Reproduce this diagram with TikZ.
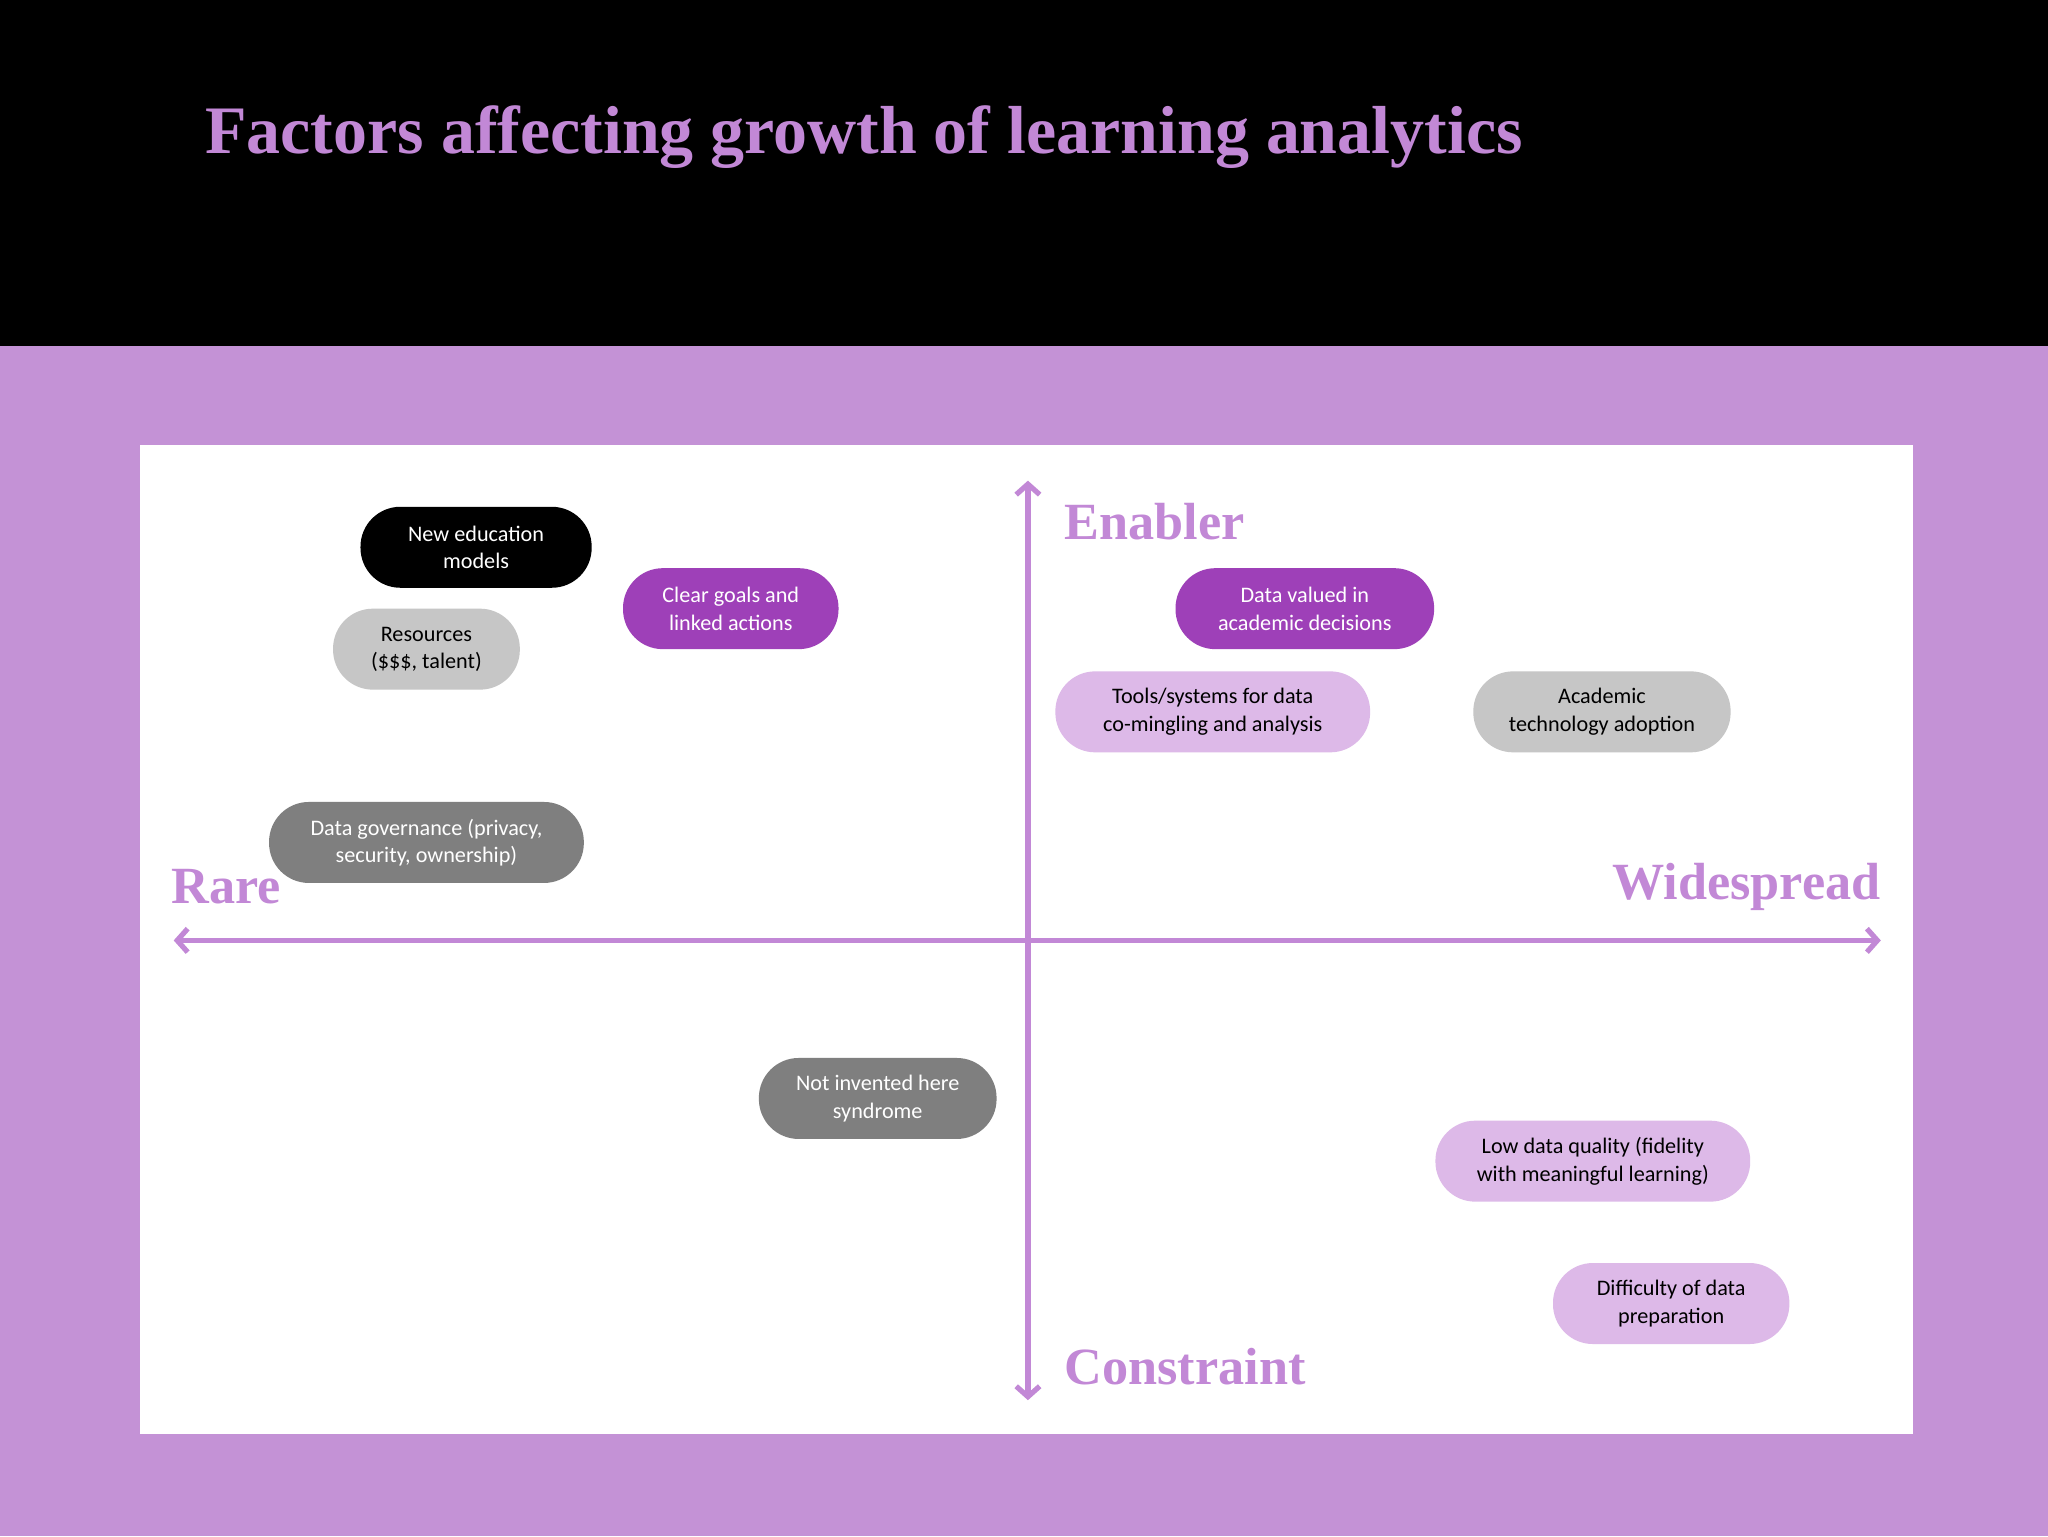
\documentclass[tikz,border=0pt]{standalone}
\usepackage{fontspec}
\setmainfont{Carlito}
\newfontfamily\titlefont{Liberation Serif}
\usetikzlibrary{arrows.meta}
\definecolor{bgpurple}{HTML}{C492D6}
\definecolor{axiscol}{HTML}{C288D6}
\definecolor{darkpurple}{HTML}{9E40B8}
\definecolor{lav}{HTML}{DDB9E8}
\definecolor{lgray}{HTML}{C6C6C6}
\definecolor{dgray}{HTML}{7F7F7F}
\begin{document}
\begin{tikzpicture}[x=1pt,y=-1pt,
  pill/.style={rounded corners=30.5pt, inner sep=0pt, align=center, font=\fontsize{17}{21}\selectfont},
  axlabel/.style={font=\titlefont\bfseries\fontsize{40}{44}\selectfont, text=axiscol, inner sep=0pt},
  axis/.style={draw=axiscol, line width=4pt, {Straight Barb[length=8pt,width=18pt]}-{Straight Barb[length=8pt,width=18pt]}}]
\useasboundingbox (0,0) rectangle (1568,1176);
\fill[bgpurple] (0,0) rectangle (1568,1176);
\fill[black] (0,0) rectangle (1568,265);
\fill[white] (107,341) rectangle (1465,1098);
\node[anchor=west, inner sep=0pt, text=axiscol, font=\titlefont\bfseries\fontsize{52}{56}\selectfont] (title) at (157,105) {Factors affecting growth of learning analytics};
\coordinate (top) at (787,368); \coordinate (bot) at (787,1072);
\coordinate (lft) at (133,720); \coordinate (rgt) at (1440,720);
\draw[axis] (bot) -- (top);
\draw[axis] (lft) -- (rgt);
\node[axlabel, anchor=west] (en) at (815,399) {Enabler};
\node[axlabel, anchor=west] (ra) at (131,679) {Rare};
\node[axlabel, anchor=east] (wi) at (1440,679) {Widespread};
\node[axlabel, anchor=west] (co) at (815,1046) {Constraint};
\newcommand{\pillnode}[8]{\node[pill, fill=#6, text=#7, minimum width=#3-#2, minimum height=#5-#4] (#1) at ({(#2+#3)/2},{(#4+#5)/2}) {#8};}
\pillnode{n1}{276}{453}{388}{450}{black}{white}{New education\\models}
\pillnode{n2}{477}{642}{435}{497}{darkpurple}{white}{Clear goals and\\linked actions}
\pillnode{n3}{255}{398}{466}{528}{lgray}{black}{Resources\\(\$\$\$, talent)}
\pillnode{n4}{206}{447}{614}{676}{dgray}{white}{Data governance (privacy,\\security, ownership)}
\pillnode{n5}{900}{1098}{435}{497}{darkpurple}{white}{Data valued in\\academic decisions}
\pillnode{n6}{808}{1049}{514}{576}{lav}{black}{Tools/systems for data\\co-mingling and analysis}
\pillnode{n7}{1128}{1325}{514}{576}{lgray}{black}{Academic\\technology adoption}
\pillnode{n8}{581}{763}{810}{872}{dgray}{white}{Not invented here\\syndrome}
\pillnode{n9}{1099}{1340}{858}{920}{lav}{black}{Low data quality (fidelity\\with meaningful learning)}
\pillnode{n10}{1189}{1370}{967}{1029}{lav}{black}{Difficulty of data\\preparation}
\end{tikzpicture}
\end{document}
